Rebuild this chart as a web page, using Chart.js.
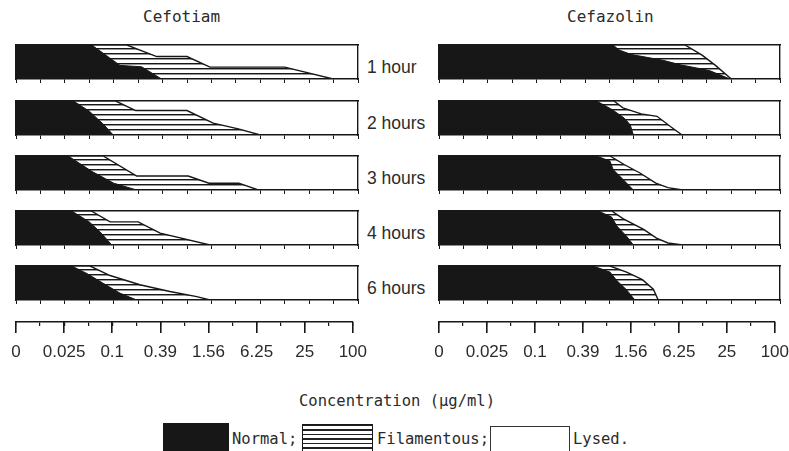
<!DOCTYPE html>
<html>
<head>
<meta charset="utf-8">
<script src="https://cdn.jsdelivr.net/npm/chart.js@4.4.1/dist/chart.umd.min.js"></script>
<style>
  html, body { margin: 0; padding: 0; background: #fff; overflow: hidden; }
  #fig { position: relative; width: 789px; height: 451px; overflow: hidden; }
  #fig canvas, #fig .t, #fig .sw { position: absolute; }
  .t { white-space: pre; color: #2b2b2b; }
  .mono { font: 15.5px/18px "DejaVu Sans Mono", monospace; }
  .title { font: 16px/18px "DejaVu Sans Mono", monospace; }
  .sans { font: 17.5px/20px "Liberation Sans", Arial, sans-serif; }
</style>
</head>
<body>
<div id="fig"></div>
<script>
// concentration scale (each major step = two twofold dilutions)
const scaleLabels = ["0", "0.025", "0.1", "0.39", "1.56", "6.25", "25", "100"];
const hourLabels = ["1 hour", "2 hours", "3 hours", "4 hours", "6 hours"];

// boundaries per time point: [dilution step 0..14, height in box 0 (bottom) .. 1 (top)]
// left of the "normal" line is black, left of the "filament" line is hatched
const cefotiamNormal = [
  [[3.1, 1], [3.7, 0.69], [4.26, 0.4], [5.14, 0.36], [5.96, 0]],
  [[2.35, 1], [3.0, 0.7], [3.6, 0.3], [3.98, 0]],
  [[2.14, 1], [3.1, 0.55], [4.0, 0.2], [4.94, 0]],
  [[2.28, 1], [3.0, 0.68], [3.45, 0.38], [3.92, 0]],
  [[2.28, 1], [2.9, 0.78], [3.57, 0.49], [4.26, 0.2], [4.94, 0]],
];
const cefotiamFilament = [
  [[4.54, 1], [5.76, 0.66], [7.0, 0.66], [7.94, 0.35], [11.0, 0.35], [12.98, 0]],
  [[4.08, 1], [4.9, 0.72], [7.0, 0.72], [8.07, 0.35], [9.1, 0.18], [10.0, 0]],
  [[3.57, 1], [4.94, 0.41], [7.05, 0.41], [7.9, 0.2], [9.12, 0.2], [9.92, 0]],
  [[3.08, 1], [3.85, 0.68], [5.0, 0.68], [5.9, 0.35], [7.94, 0]],
  [[3.03, 1], [3.85, 0.72], [5.07, 0.45], [6.3, 0.25], [7.4, 0.1], [7.94, 0]],
];
const cefazolinNormal = [
  [[7.14, 1], [7.4, 0.85], [7.9, 0.72], [9.2, 0.55], [9.9, 0.42], [11.1, 0.25], [11.95, 0]],
  [[6.47, 1], [7.1, 0.75], [7.6, 0.5], [7.85, 0.3], [7.98, 0]],
  [[6.47, 1], [7.02, 0.85], [7.15, 0.6], [7.57, 0.3], [7.98, 0]],
  [[6.54, 1], [7.09, 0.82], [7.3, 0.56], [7.7, 0.26], [7.98, 0]],
  [[6.33, 1], [7.02, 0.82], [7.3, 0.57], [7.7, 0.3], [8.04, 0]],
];
const cefazolinFilament = [
  [[10.1, 1], [10.8, 0.7], [11.35, 0.4], [12.0, 0]],
  [[7.18, 1], [7.55, 0.8], [8.3, 0.62], [8.95, 0.55], [9.5, 0.25], [9.98, 0]],
  [[7.02, 1], [7.6, 0.75], [8.25, 0.5], [8.9, 0.2], [9.4, 0.07], [10.0, 0]],
  [[7.09, 1], [7.57, 0.77], [8.4, 0.46], [8.93, 0.2], [9.4, 0.06], [10.0, 0]],
  [[7.02, 1], [7.7, 0.82], [8.35, 0.6], [8.8, 0.32], [9.0, 0]],
];

const INK = "#171717";
const TEXT = "#2b2b2b";
const ROW_TOPS = [45, 101, 156, 211, 266];
const ROW_H = 34;
const AXIS_Y = 322;

const fig = document.getElementById("fig");

function addEl(tag, cls, left, top, text) {
  const el = document.createElement(tag);
  if (cls) el.className = cls;
  el.style.left = left + "px";
  el.style.top = top + "px";
  if (text != null) el.textContent = text;
  fig.appendChild(el);
  return el;
}

function addCanvas(left, top, w, h) {
  const cv = document.createElement("canvas");
  cv.width = w;
  cv.height = h;
  cv.style.left = left + "px";
  cv.style.top = top + "px";
  cv.style.width = w + "px";
  cv.style.height = h + "px";
  fig.appendChild(cv);
  return cv;
}

function makeHatch() {
  const c = document.createElement("canvas");
  c.width = 6;
  c.height = 5;
  const g = c.getContext("2d");
  g.fillStyle = "#fff";
  g.fillRect(0, 0, 6, 5);
  g.fillStyle = INK;
  g.fillRect(0, 0, 6, 1);
  g.fillStyle = "rgba(23,23,23,0.45)";
  g.fillRect(0, 1, 6, 1);
  return g.createPattern(c, "repeat");
}
const hatch = makeHatch();

const toPoints = (pts) => [[0, 1], ...pts, [14, 0]].map(([x, y]) => ({ x, y }));

const frame = (axis, position, max) => ({
  axis, position, type: "linear", min: 0, max,
  ticks: { display: false },
  grid: { display: false, drawTicks: false },
  border: { color: INK, width: 1.4 },
});

function makeBox(left, top, width, normal, filament) {
  const pad = 2, tick = 4;
  const cv = addCanvas(left - pad, top - pad, width + pad * 2, ROW_H + pad * 2 + tick);
  new Chart(cv, {
    type: "line",
    data: {
      datasets: [
        { data: toPoints(normal), fill: "origin", backgroundColor: INK, borderColor: INK, borderWidth: 1 },
        { data: toPoints(filament), fill: "origin", backgroundColor: hatch, borderColor: INK, borderWidth: 1.4 },
      ],
    },
    options: {
      responsive: false,
      animation: false,
      events: [],
      layout: { padding: pad },
      elements: { point: { radius: 0 }, line: { tension: 0 } },
      plugins: { legend: { display: false }, tooltip: { enabled: false } },
      scales: {
        x: {
          type: "linear", min: 0, max: 14,
          ticks: { display: false, stepSize: 1 },
          grid: { drawOnChartArea: false, tickLength: tick, color: INK, lineWidth: 1 },
          border: { color: INK, width: 1.4 },
        },
        y: frame("y", "left", 1),
        xTop: frame("x", "top", 14),
        yRight: frame("y", "right", 1),
      },
    },
  });
}

function makeScale(left, width) {
  const padL = 14, padR = 18, padT = 4, minorLen = 4, labelBand = 38;
  const cv = addCanvas(left - padL, AXIS_Y - padT, width + padL + padR, padT + minorLen + labelBand);
  new Chart(cv, {
    type: "line",
    data: { datasets: [] },
    options: {
      responsive: false,
      animation: false,
      events: [],
      layout: { padding: { left: padL, right: padR, top: padT, bottom: 0 } },
      plugins: { legend: { display: false }, tooltip: { enabled: false } },
      scales: {
        minor: {
          axis: "x", type: "linear", position: "top", min: 0, max: 14,
          ticks: { display: false, stepSize: 1 },
          grid: { drawTicks: false, color: INK, lineWidth: 1.2 },
          border: { color: INK, width: 1.6 },
        },
        major: {
          axis: "x", type: "linear", position: "bottom", min: 0, max: 14,
          ticks: {
            stepSize: 2, padding: 9, autoSkip: false, maxRotation: 0, color: TEXT,
            font: { family: "'Liberation Sans', Arial, sans-serif", size: 17 },
            callback: (v) => scaleLabels[v / 2],
          },
          grid: { tickLength: 7, color: INK, lineWidth: 1.6 },
          border: { display: false },
          afterFit: (scale) => { scale.height = labelBand; },
        },
      },
    },
  });
}

const panels = [
  { title: "Cefotiam", titleX: 143, left: 16, width: 342, normal: cefotiamNormal, filament: cefotiamFilament },
  { title: "Cefazolin", titleX: 567, left: 439, width: 341, normal: cefazolinNormal, filament: cefazolinFilament },
];

panels.forEach((p) => {
  addEl("div", "t title", p.titleX, 8, p.title);
  ROW_TOPS.forEach((top, i) => makeBox(p.left, top, p.width, p.normal[i], p.filament[i]));
  makeScale(p.left, p.width);
});

hourLabels.forEach((lab, i) => addEl("div", "t sans", 367, ROW_TOPS[i] + 12, lab));

addEl("div", "t mono", 299, 392, "Concentration (\u03bcg/ml)");

// legend
const sw1 = addEl("div", "sw", 163, 423);
Object.assign(sw1.style, { width: "66px", height: "40px", background: INK });
addEl("div", "t mono", 232, 430, "Normal;");
const sw2 = addEl("div", "sw", 302, 424);
Object.assign(sw2.style, {
  width: "69px", height: "40px", border: "1px solid " + INK,
  background: "repeating-linear-gradient(to bottom, #222 0px, #222 1.3px, #fff 1.3px, #fff 4.5px)",
});
addEl("div", "t mono", 377, 430, "Filamentous;");
const sw3 = addEl("div", "sw", 490, 426);
Object.assign(sw3.style, { width: "78px", height: "40px", border: "1px solid #333", background: "#fff" });
addEl("div", "t mono", 573, 430, "Lysed.");
</script>
</body>
</html>
